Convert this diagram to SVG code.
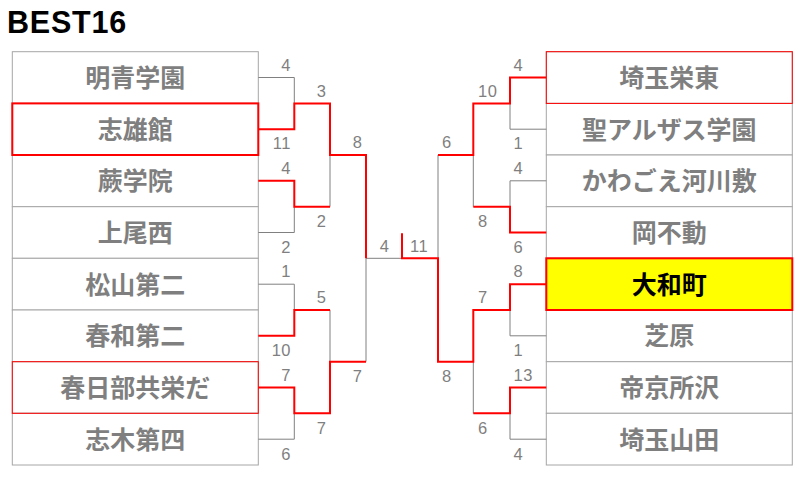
<svg xmlns="http://www.w3.org/2000/svg" width="807" height="477" viewBox="0 0 807 477">
<style>
.box{fill:#ffffff;stroke:#a6a6a6;stroke-width:1}
.rb{fill:none;stroke:#ff0000;stroke-width:1}
.rbt{fill:none;stroke:#ff0000;stroke-width:2}
.name{font-family:"Noto Sans CJK JP","Noto Sans",sans-serif;font-weight:bold;font-size:25px;fill:#7f7f7f;text-anchor:middle}
.win{fill:#000000}
.sc{font-family:"Liberation Sans",Arial,sans-serif;font-size:16.5px;fill:#7f7f7f;letter-spacing:0.5px}
.l{text-anchor:end}
.r{text-anchor:start}
.g{fill:none;stroke:#808080;stroke-width:1}
.rd{fill:none;stroke:#ff0000;stroke-width:2}
</style>
<rect width="807" height="477" fill="#ffffff"/>
<text x="7" y="33.3" font-family="'Liberation Sans',Arial,sans-serif" font-weight="bold" font-size="30.5" letter-spacing="0.8" fill="#000000">BEST16</text>

<g id="L1"><rect class="box" x="12.3" y="51.7" width="246" height="51.7"/><text class="name" x="135.3" y="87">明青学園</text></g>
<g id="L2"><rect class="box" x="12.3" y="103.4" width="246" height="51.6"/><text class="name" x="135.3" y="138.7">志雄館</text></g>
<g id="L3"><rect class="box" x="12.3" y="155" width="246" height="51.7"/><text class="name" x="135.3" y="190.3">蕨学院</text></g>
<g id="L4"><rect class="box" x="12.3" y="206.7" width="246" height="51.6"/><text class="name" x="135.3" y="242">上尾西</text></g>
<g id="L5"><rect class="box" x="12.3" y="258.3" width="246" height="51.7"/><text class="name" x="135.3" y="293.7">松山第二</text></g>
<g id="L6"><rect class="box" x="12.3" y="310" width="246" height="51.7"/><text class="name" x="135.3" y="345.3">春和第二</text></g>
<g id="L7"><rect class="box" x="12.3" y="361.7" width="246" height="51.6"/><text class="name" x="135.3" y="397">春日部共栄だ</text></g>
<g id="L8"><rect class="box" x="12.3" y="413.3" width="246" height="51.7"/><text class="name" x="135.3" y="448.7">志木第四</text></g>

<g id="R1"><rect class="box" x="546.3" y="51.7" width="246" height="51.7"/><text class="name" x="669.3" y="87">埼玉栄東</text></g>
<g id="R2"><rect class="box" x="546.3" y="103.4" width="246" height="51.6"/><text class="name" x="669.3" y="138.7">聖アルザス学園</text></g>
<g id="R3"><rect class="box" x="546.3" y="155" width="246" height="51.7"/><text class="name" x="669.3" y="190.3">かわごえ河川敷</text></g>
<g id="R4"><rect class="box" x="546.3" y="206.7" width="246" height="51.6"/><text class="name" x="669.3" y="242">岡不動</text></g>
<g id="R5"><rect class="box" x="546.3" y="258.3" width="246" height="51.7"/><text class="name" x="669.3" y="293.7">大和町</text></g>
<g id="R6"><rect class="box" x="546.3" y="310" width="246" height="51.7"/><text class="name" x="669.3" y="345.3">芝原</text></g>
<g id="R7"><rect class="box" x="546.3" y="361.7" width="246" height="51.6"/><text class="name" x="669.3" y="397">帝京所沢</text></g>
<g id="R8"><rect class="box" x="546.3" y="413.3" width="246" height="51.7"/><text class="name" x="669.3" y="448.7">埼玉山田</text></g>

<g id="highlights">
<rect class="rbt" x="12.3" y="103.4" width="246" height="51.6"/>
<rect class="rb" x="12.3" y="361.7" width="246" height="51.6"/>
<rect class="rb" x="546.3" y="51.7" width="246" height="51.7"/>
<rect x="546.3" y="258.3" width="246" height="51.7" fill="#ffff00" stroke="#ff0000" stroke-width="2"/>
<text class="name win" x="669.3" y="293.7">大和町</text>
</g>

<g id="connectors">
<path class="g" d="M258.3,77.5H294.3V103.4 M294.3,206.7V232.5H258.3 M258.3,284.2H294.3V310 M294.3,413.3V439.2H258.3 M330,155V206.7 M330,310V361.7 M366,258.3V361.7 M366,258.3H402"/>
<path class="rd" d="M258.3,129.2H294.3V103.4H330V155H366V258.3 M258.3,180.8H294.3V206.7H330 M258.3,335.8H294.3V310H330 M258.3,387.5H294.3V413.3H330V361.7H366"/>
<path class="g" d="M546.3,129.2H510V103.4 M546.3,180.8H510V206.7 M473.3,155V206.7 M510,310V335.8H546.3 M510,413.3V439.2H546.3 M473.3,361.7V413.3 M438,155V258.3"/>
<path class="rd" d="M546.3,77.5H510V103.4H473.3V155H438 M546.3,232.5H510V206.7H473.3 M546.3,284.2H510V310H473.3V361.7H438V258.3H402V233.3 M546.3,387.5H510V413.3H473.3"/>
</g>

<g id="scores">
<text class="sc l" x="291" y="70.5">4</text>
<text class="sc l" x="291" y="149">11</text>
<text class="sc l" x="291" y="174">4</text>
<text class="sc l" x="291" y="253">2</text>
<text class="sc l" x="291" y="277">1</text>
<text class="sc l" x="291" y="356">10</text>
<text class="sc l" x="291" y="381">7</text>
<text class="sc l" x="291" y="460">6</text>
<text class="sc l" x="326.5" y="96.5">3</text>
<text class="sc l" x="326.5" y="227">2</text>
<text class="sc l" x="326.5" y="303">5</text>
<text class="sc l" x="326.5" y="434">7</text>
<text class="sc l" x="362.5" y="148">8</text>
<text class="sc l" x="362.5" y="382">7</text>
<text class="sc l" x="389.5" y="251.5">4</text>
<text class="sc r" x="410" y="251.5">11</text>
<text class="sc r" x="513.5" y="70.5">4</text>
<text class="sc r" x="513.5" y="149">1</text>
<text class="sc r" x="513.5" y="174">4</text>
<text class="sc r" x="513.5" y="253">6</text>
<text class="sc r" x="513.5" y="277">8</text>
<text class="sc r" x="513.5" y="356">1</text>
<text class="sc r" x="513.5" y="381">13</text>
<text class="sc r" x="513.5" y="460">4</text>
<text class="sc r" x="478" y="96.5">10</text>
<text class="sc r" x="478" y="227">8</text>
<text class="sc r" x="478" y="303">7</text>
<text class="sc r" x="478" y="434">6</text>
<text class="sc r" x="442" y="148">6</text>
<text class="sc r" x="442" y="382">8</text>
</g>
</svg>
